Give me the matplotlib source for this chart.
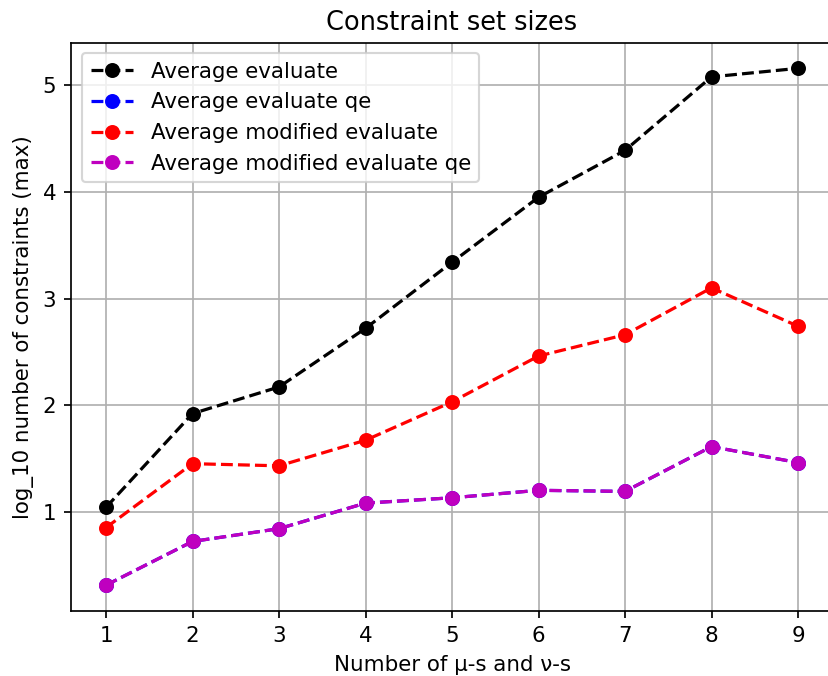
import matplotlib
matplotlib.use("Agg")
import matplotlib.pyplot as plt

n_values = [1, 2, 3, 4, 5, 6, 7, 8, 9]
avg_evaluate = [1.04, 1.92, 2.17, 2.72, 3.34, 3.95, 4.39, 5.08, 5.16]
avg_evaluate_qe = [0.31, 0.72, 0.84, 1.08, 1.13, 1.20, 1.19, 1.61, 1.46]
avg_mod_evaluate = [0.85, 1.45, 1.43, 1.67, 2.03, 2.46, 2.66, 3.10, 2.74]
avg_mod_evaluate_qe = [0.31, 0.72, 0.84, 1.08, 1.13, 1.20, 1.19, 1.61, 1.46]

DPI = 154
W, H = 828, 676
fig = plt.figure(figsize=(W / DPI, H / DPI), dpi=DPI)
left, right, top, bottom = 71.4, 832.6, 42.5, 611
ax = fig.add_axes([left / W, 1 - bottom / H, (right - left) / W, (bottom - top) / H])

ax.plot(n_values, avg_evaluate, 'ko--', markersize=6, linewidth=1.5, label='Average evaluate')
ax.plot(n_values, avg_evaluate_qe, 'bo--', markersize=6, linewidth=1.5, label='Average evaluate qe')
ax.plot(n_values, avg_mod_evaluate, 'ro--', markersize=6, linewidth=1.5, label='Average modified evaluate')
ax.plot(n_values, avg_mod_evaluate_qe, 'mo--', markersize=6, linewidth=1.5, label='Average modified evaluate qe')

ax.set_title('Constraint set sizes', fontsize=12)
ax.set_xlabel('Number of μ-s and ν-s', fontsize=10)
ax.set_ylabel('log_10 number of constraints (max)', fontsize=10)
ax.tick_params(labelsize=10)
ax.grid(True, color='#b0b0b0', linewidth=0.8)
ax.set_xticks(n_values)
ax.set_yticks([1, 2, 3, 4, 5])
ax.legend(loc='upper left', fontsize=10)

fig.savefig('out.png', dpi=DPI)
